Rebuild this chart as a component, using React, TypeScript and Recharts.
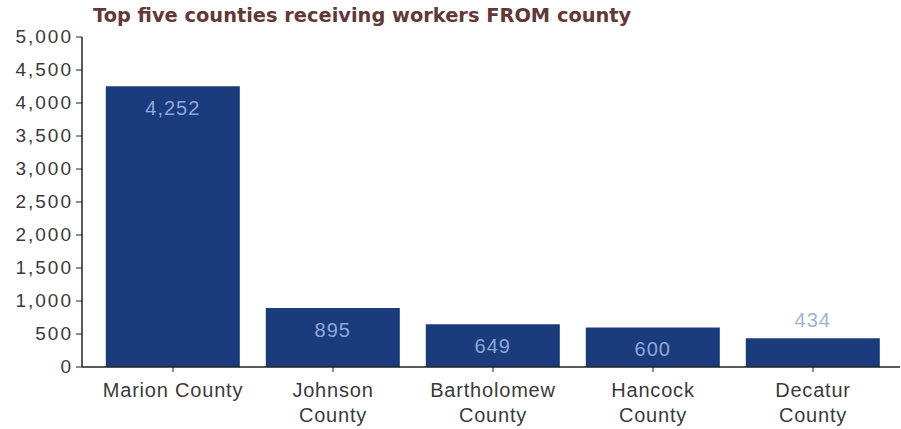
import { BarChart, Bar, XAxis, YAxis, LabelList } from 'recharts';

const counties = ['Marion County', 'Johnson County', 'Bartholomew County', 'Hancock County', 'Decatur County'];
const workers = [4252, 895, 649, 600, 434];
const yTicks = [0, 500, 1000, 1500, 2000, 2500, 3000, 3500, 4000, 4500, 5000];

const data = counties.map((name, i) => ({ name, value: workers[i] }));

const fmt = (v: number) => v.toLocaleString('en-US');

function CountyTick({ x, y, payload }: any) {
  const name: string = payload.value;
  const lines = name.length > 13 ? [name.slice(0, name.lastIndexOf(' ')), name.slice(name.lastIndexOf(' ') + 1)] : [name];
  return (
    <text x={x} y={y} textAnchor="middle" fill="#3a3a3a" fontSize={20} letterSpacing={0.8} fontFamily="Liberation Sans, Arial, sans-serif">
      {lines.map((l, i) => (
        <tspan key={i} x={x} dy={i === 0 ? 23 : 25}>{l}</tspan>
      ))}
    </text>
  );
}

function YTick({ x, y, payload }: any) {
  return (
    <text x={x - 1} y={y} dy={6} textAnchor="end" fill="#3a3a3a" fontSize={19} letterSpacing={2} fontFamily="Liberation Sans, Arial, sans-serif">
      {fmt(payload.value)}
    </text>
  );
}

function ValueLabel({ x, y, width, value }: any) {
  const small = value < 500;
  return (
    <text
      x={x + width / 2}
      y={small ? y - 11 : y + 29}
      textAnchor="middle"
      fill={small ? '#9fb1da' : '#8ea8d9'}
      fontSize={20}
      letterSpacing={1}
      fontFamily="Liberation Sans, Arial, sans-serif"
    >
      {fmt(value)}
    </text>
  );
}

export default function App() {
  return (
    <div style={{ position: 'absolute', left: 0, top: 0, width: 901, height: 429, background: '#fff' }}>
      <div
        style={{
          position: 'absolute',
          left: 93,
          top: 4,
          fontFamily: 'DejaVu Sans, Verdana, sans-serif',
          fontWeight: 'bold',
          fontSize: 19.4,
          color: '#633838',
          whiteSpace: 'nowrap',
        }}
      >
        Top five counties receiving workers FROM county
      </div>
      <BarChart width={901} height={429} data={data} margin={{ top: 37, right: 1, bottom: 0, left: 0 }} barCategoryGap="8%">
        <XAxis
          dataKey="name"
          height={62}
          interval={0}
          padding={{ left: 11, right: 7 }}
          axisLine={{ stroke: '#222', strokeWidth: 1.5 }}
          tickLine={{ stroke: '#222' }}
          tickSize={5}
          tick={<CountyTick />}
        />
        <YAxis
          width={82}
          domain={[0, 5000]}
          ticks={yTicks}
          interval={0}
          axisLine={{ stroke: '#222', strokeWidth: 1.5 }}
          tickLine={{ stroke: '#222' }}
          tickSize={6}
          tick={<YTick />}
        />
        <Bar dataKey="value" fill="#1a3b7c" isAnimationActive={false}>
          <LabelList dataKey="value" content={<ValueLabel />} />
        </Bar>
      </BarChart>
    </div>
  );
}
